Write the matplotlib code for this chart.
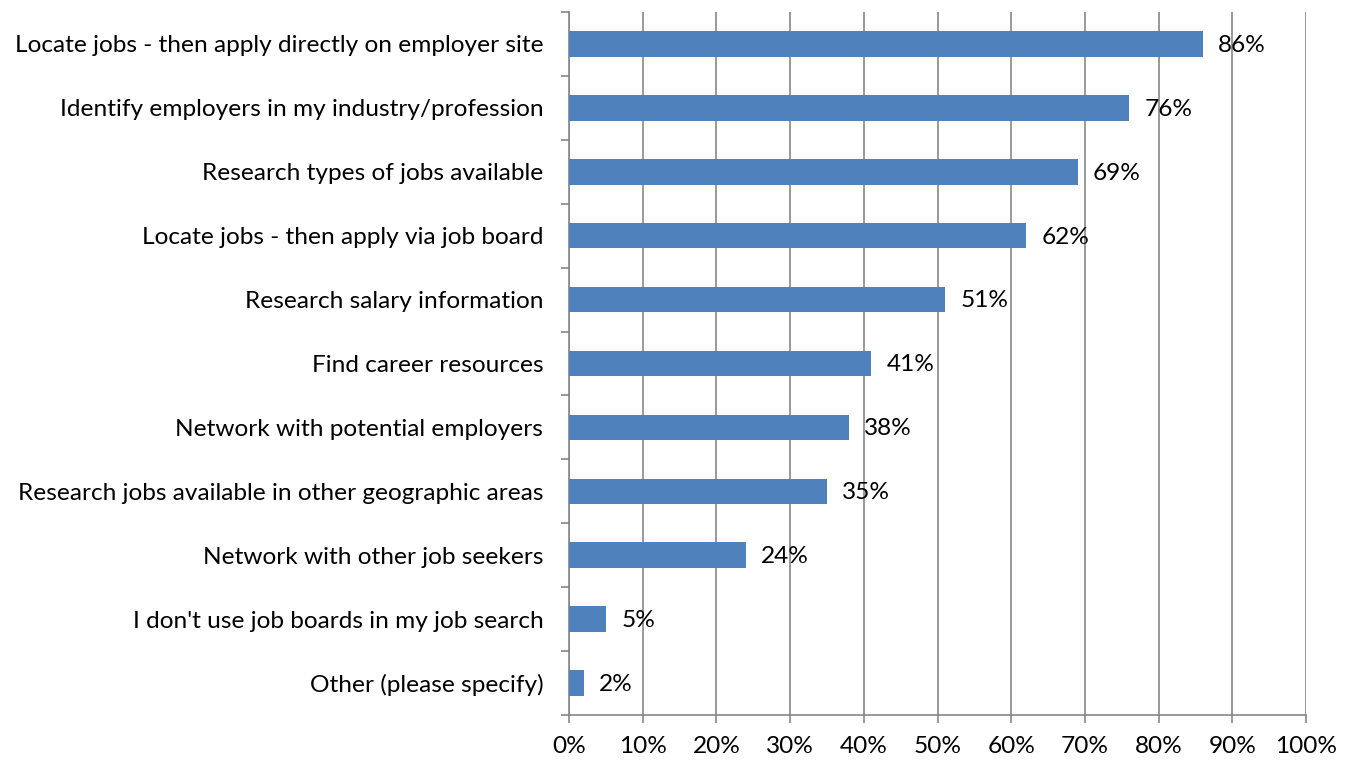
import matplotlib.pyplot as plt
from matplotlib.ticker import FixedLocator, PercentFormatter

plt.rcParams["font.family"] = ["Lato", "DejaVu Sans"]

categories = [
    "Locate jobs - then apply directly on employer site",
    "Identify employers in my industry/profession",
    "Research types of jobs available",
    "Locate jobs - then apply via job board",
    "Research salary information",
    "Find career resources",
    "Network with potential employers",
    "Research jobs available in other geographic areas",
    "Network with other job seekers",
    "I don't use job boards in my job search",
    "Other (please specify)",
]
values = [86, 76, 69, 62, 51, 41, 38, 35, 24, 5, 2]

bar_color = "#4F81BD"
grid_color = "#868686"
fs = 17.6

fig = plt.figure(figsize=(13.48, 7.64), dpi=100)
ax = fig.add_axes([569 / 1348, 1 - 715 / 764, (1306 - 569) / 1348, (715 - 12) / 764])

n = len(categories)
ypos = list(range(n))
bars = ax.barh(ypos, values, height=0.4, color=bar_color, zorder=3)

for b, v in zip(bars, values):
    ax.annotate(f"{v}%", (b.get_width(), b.get_y() + b.get_height() / 2),
                xytext=(11, -1), textcoords="offset points",
                va="center", ha="left", fontsize=fs, zorder=4)

ax.set_xlim(0, 100)
ax.set_ylim(n - 0.5, -0.5)
ax.set_xticks(range(0, 101, 10))
ax.xaxis.set_major_formatter(PercentFormatter(decimals=0))
ax.set_yticks(ypos)
ax.set_yticklabels(categories)
ax.yaxis.set_minor_locator(FixedLocator([i - 0.5 for i in range(n + 1)]))

ax.tick_params(axis="y", which="major", length=0, pad=18.5, labelsize=fs)
ax.tick_params(axis="y", which="minor", length=6, width=1.2, color=grid_color)
ax.tick_params(axis="x", which="major", length=6, width=1.2, color=grid_color,
               pad=9, labelsize=fs)

ax.grid(axis="x", color=grid_color, linewidth=1.2, zorder=0)
for s in ["top", "right"]:
    ax.spines[s].set_visible(False)
for s in ["left", "bottom"]:
    ax.spines[s].set_color(grid_color)
    ax.spines[s].set_linewidth(1.2)

fig.savefig("out.png", dpi=100)
